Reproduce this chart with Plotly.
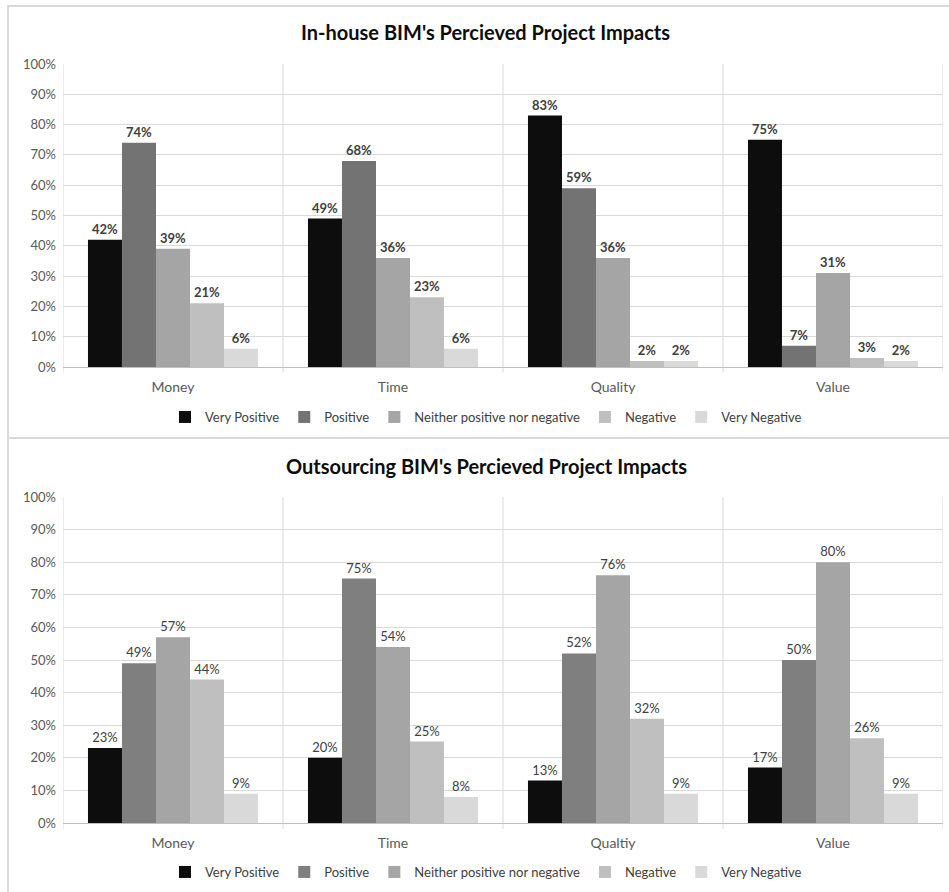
import plotly.graph_objects as go

W, H = 949, 892

# Series and categories
series_names = ["Very Positive", "Positive", "Neither positive nor negative",
                "Negative", "Very Negative"]

inhouse_categories = ["Money", "Time", "Quality", "Value"]
inhouse_very_positive = [42, 49, 83, 75]
inhouse_positive = [74, 68, 59, 7]
inhouse_neither = [39, 36, 36, 31]
inhouse_negative = [21, 23, 2, 3]
inhouse_very_negative = [6, 6, 2, 2]

outsourcing_categories = ["Money", "Time", "Qualtiy", "Value"]
outsourcing_very_positive = [23, 20, 13, 17]
outsourcing_positive = [49, 75, 52, 50]
outsourcing_neither = [57, 54, 76, 80]
outsourcing_negative = [44, 25, 32, 26]
outsourcing_very_negative = [9, 8, 9, 9]

y_ticks = [0, 10, 20, 30, 40, 50, 60, 70, 80, 90, 100]
y_tick_labels = [f"{v}%" for v in y_ticks]

inhouse_colors = ["#0d0d0d", "#737373", "#a5a5a5", "#bfbfbf", "#d9d9d9"]
outsourcing_colors = ["#0d0d0d", "#7f7f7f", "#a5a5a5", "#bfbfbf", "#d9d9d9"]

FONT = "Lato"


def px_x(p):
    return p / W


def px_y(p):
    return 1 - p / H


fig = go.Figure()

inhouse_values = [inhouse_very_positive, inhouse_positive, inhouse_neither,
                  inhouse_negative, inhouse_very_negative]
outsourcing_values = [outsourcing_very_positive, outsourcing_positive,
                      outsourcing_neither, outsourcing_negative,
                      outsourcing_very_negative]

for name, vals, col in zip(series_names, inhouse_values, inhouse_colors):
    fig.add_trace(go.Bar(
        x=inhouse_categories, y=vals, name=name,
        marker=dict(color=col, line=dict(width=0)),
        text=[f"{v}%" for v in vals], textposition="outside",
        textfont=dict(family=FONT, size=13, color="#404040", weight="bold"),
        cliponaxis=False, xaxis="x", yaxis="y", legend="legend",
        hovertemplate="%{x}: %{y}%<extra>" + name + "</extra>",
    ))

for name, vals, col in zip(series_names, outsourcing_values, outsourcing_colors):
    fig.add_trace(go.Bar(
        x=outsourcing_categories, y=vals, name=name,
        marker=dict(color=col, line=dict(width=0)),
        text=[f"{v}%" for v in vals], textposition="outside",
        textfont=dict(family=FONT, size=13, color="#404040"),
        cliponaxis=False, xaxis="x2", yaxis="y2", legend="legend2",
        hovertemplate="%{x}: %{y}%<extra>" + name + "</extra>",
    ))

axis_x = dict(
    range=[-0.5, 3.5], showgrid=False, zeroline=False, showline=False,
    ticks="", ticklabelstandoff=10, automargin=False,
    tickfont=dict(family=FONT, size=14, color="#595959"),
    fixedrange=True,
)
axis_y = dict(
    range=[0, 100], tickmode="array", tickvals=y_ticks, ticktext=y_tick_labels,
    showgrid=True, gridcolor="#d9d9d9", gridwidth=1,
    zeroline=True, zerolinecolor="#bfbfbf", zerolinewidth=1,
    showline=False, ticks="", ticklabelstandoff=6, automargin=False,
    tickfont=dict(family=FONT, size=13, color="#595959"),
    fixedrange=True,
)

fig.update_layout(
    width=W, height=H,
    margin=dict(l=0, r=0, t=0, b=0, autoexpand=False),
    paper_bgcolor="white", plot_bgcolor="white",
    barmode="group", bargap=0.227, bargroupgap=0,
    font=dict(family=FONT, color="#404040"),
    xaxis=dict(axis_x, domain=[px_x(63), px_x(943)], anchor="y"),
    yaxis=dict(axis_y, domain=[px_y(367), px_y(64)], anchor="x"),
    xaxis2=dict(axis_x, domain=[px_x(63), px_x(943)], anchor="y2"),
    yaxis2=dict(axis_y, domain=[px_y(823), px_y(497)], anchor="x2"),
    legend=dict(orientation="h", x=px_x(486), xanchor="center",
                y=px_y(417), yanchor="middle",
                font=dict(family=FONT, size=13, color="#404040"),
                itemclick=False, itemdoubleclick=False, traceorder="normal"),
    legend2=dict(orientation="h", x=px_x(486), xanchor="center",
                 y=px_y(872), yanchor="middle",
                 font=dict(family=FONT, size=13, color="#404040"),
                 itemclick=False, itemdoubleclick=False, traceorder="normal"),
    showlegend=True,
)

shapes = []
# Category separators (and short tick marks below the baseline)
for xa, ya in (("x", "y"), ("x2", "y2")):
    for b in [-0.5, 0.5, 1.5, 2.5, 3.5]:
        shapes.append(dict(type="line", xref=xa, yref=f"{ya} domain",
                           x0=b, x1=b, y0=-0.018, y1=1,
                           line=dict(color="#d9d9d9", width=1), layer="below"))
# Chart frames
shapes.append(dict(type="rect", xref="paper", yref="paper",
                   x0=px_x(8), x1=px_x(975), y0=px_y(438), y1=px_y(6),
                   line=dict(color="#d9d9d9", width=2), fillcolor="rgba(0,0,0,0)"))
shapes.append(dict(type="rect", xref="paper", yref="paper",
                   x0=px_x(8), x1=px_x(975), y0=px_y(920), y1=px_y(438),
                   line=dict(color="#d9d9d9", width=2), fillcolor="rgba(0,0,0,0)"))
fig.update_layout(shapes=shapes)

fig.add_annotation(text="<b>In-house BIM's Percieved Project Impacts</b>",
                   xref="paper", yref="paper", x=px_x(486), y=px_y(32),
                   xanchor="center", yanchor="middle", showarrow=False,
                   font=dict(family=FONT, size=20, color="#0d0d0d"))
fig.add_annotation(text="<b>Outsourcing BIM's Percieved Project Impacts</b>",
                   xref="paper", yref="paper", x=px_x(487), y=px_y(466),
                   xanchor="center", yanchor="middle", showarrow=False,
                   font=dict(family=FONT, size=20, color="#0d0d0d"))

fig.write_html("out.html")
